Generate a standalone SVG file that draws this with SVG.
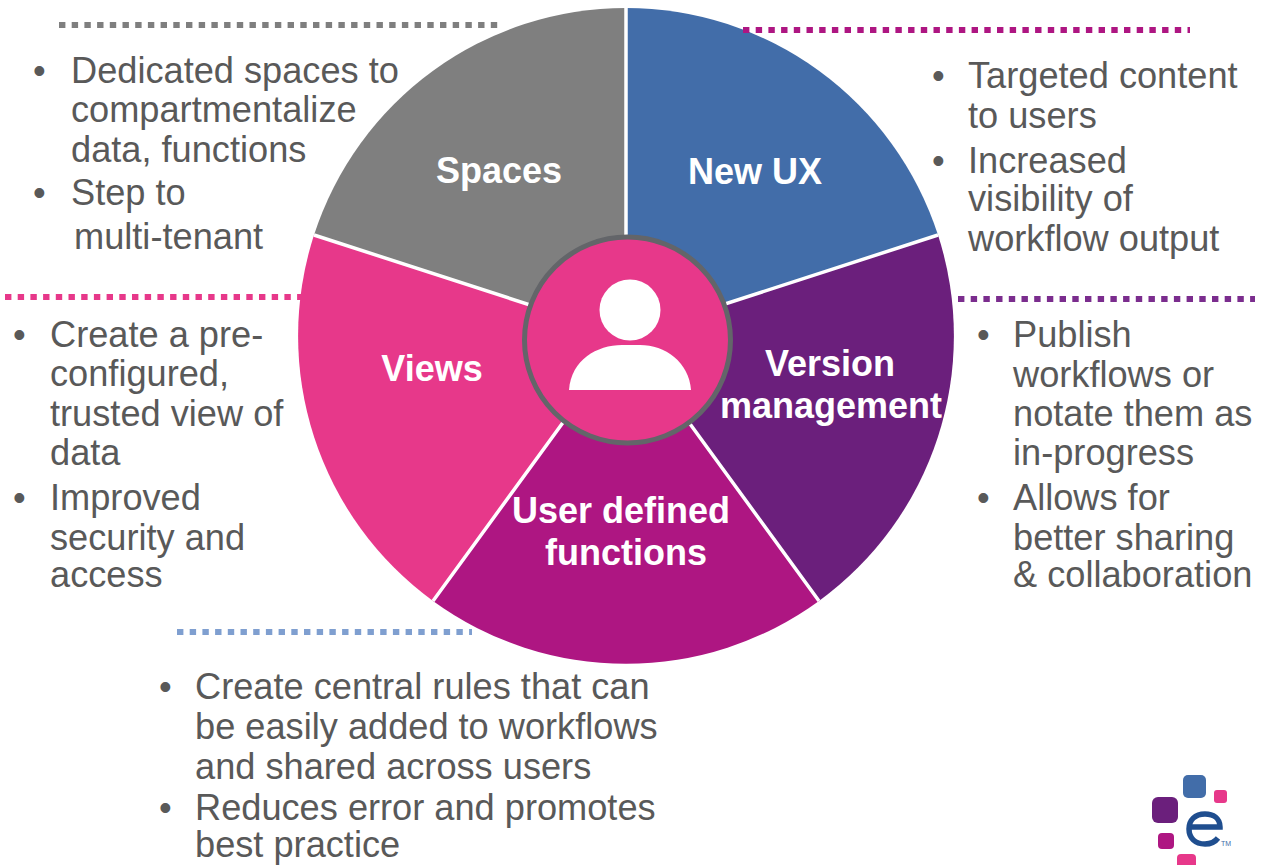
<svg xmlns="http://www.w3.org/2000/svg" width="1270" height="865" viewBox="0 0 1270 865">
<style>
text{font-family:"Liberation Sans",Arial,sans-serif}
.b{font-size:36.2px;fill:#595959}
.l{font-size:36px;font-weight:bold;fill:#fff;text-anchor:middle}
.w{stroke:#fff;stroke-width:3.5;fill:none}
.d{fill:none;stroke-width:6;stroke-dasharray:6.4 6.3}
</style>
<rect width="1270" height="865" fill="#fff"/>
<g id="spaces"><path d="M626 336L314 235A328 328 0 0 1 626 8Z" fill="#7f7f7f"/><text class="l" x="499" y="183">Spaces</text></g>
<g id="new-ux"><path d="M626 336L626 8A328 328 0 0 1 938 235Z" fill="#426da9"/><text class="l" x="755" y="184">New UX</text></g>
<g id="version"><path d="M626 336L938 235A328 328 0 0 1 819 601Z" fill="#6b1f7c"/></g>
<g id="udf"><path d="M626 336L819 601A328 328 0 0 1 433 601Z" fill="#ae1682"/></g>
<g id="views"><path d="M626 336L433 601A328 328 0 0 1 314 235Z" fill="#e7388a"/><text class="l" x="432" y="381">Views</text></g>
<path class="w" d="M626 336V8M626 336L938 235M626 336L819 601M626 336L433 601M626 336L314 235"/>
<g id="version-label"><text class="l" x="830" y="376">Version</text><text class="l" x="831" y="418">management</text></g>
<g id="udf-label"><text class="l" x="621" y="523">User defined</text><text class="l" x="626" y="565">functions</text></g>
<g id="center">
<circle cx="627.500" cy="340" r="103" fill="#e7388a" stroke="#636569" stroke-width="5"/>
<circle cx="630" cy="310" r="30.500" fill="#fff"/>
<path d="M569 390C571 360 597 345 622 345H640C665 345 689 362 691 390Z" fill="#fff"/>
</g>
<g id="connectors">
<path class="d" stroke="#7f7f7f" d="M59 25H498"/>
<path class="d" stroke="#ae1682" d="M743 30H1190"/>
<path class="d" stroke="#e7388a" d="M5 297H302"/>
<path class="d" stroke="#7b2d8e" d="M958 299H1255"/>
<path class="d" stroke="#7f9fd0" d="M177 632H472"/>
</g>
<g id="text-spaces">
<text class="b" x="33" y="83">•</text><text class="b" x="71" y="83">Dedicated spaces to</text>
<text class="b" x="71" y="122">compartmentalize</text>
<text class="b" x="71" y="162">data, functions</text>
<text class="b" x="33" y="205">•</text><text class="b" x="71" y="205">Step to</text>
<text class="b" x="74" y="249">multi-tenant</text>
</g>
<g id="text-ux">
<text class="b" x="932" y="88">•</text><text class="b" x="968" y="88">Targeted content</text>
<text class="b" x="968" y="128">to users</text>
<text class="b" x="932" y="173">•</text><text class="b" x="968" y="173">Increased</text>
<text class="b" x="968" y="211">visibility of</text>
<text class="b" x="968" y="251">workflow output</text>
</g>
<g id="text-views">
<text class="b" x="13" y="347">•</text><text class="b" x="50" y="347">Create a pre-</text>
<text class="b" x="50" y="386">configured,</text>
<text class="b" x="50" y="426">trusted view of</text>
<text class="b" x="50" y="465">data</text>
<text class="b" x="13" y="510">•</text><text class="b" x="50" y="510">Improved</text>
<text class="b" x="50" y="550">security and</text>
<text class="b" x="50" y="587">access</text>
</g>
<g id="text-version">
<text class="b" x="977" y="347">•</text><text class="b" x="1013" y="347">Publish</text>
<text class="b" x="1013" y="387">workflows or</text>
<text class="b" x="1013" y="426">notate them as</text>
<text class="b" x="1013" y="465">in-progress</text>
<text class="b" x="977" y="510">•</text><text class="b" x="1013" y="510">Allows for</text>
<text class="b" x="1013" y="550">better sharing</text>
<text class="b" x="1013" y="587">&amp; collaboration</text>
</g>
<g id="text-udf">
<text class="b" x="159" y="699">•</text><text class="b" x="195" y="699">Create central rules that can</text>
<text class="b" x="195" y="739">be easily added to workflows</text>
<text class="b" x="195" y="779">and shared across users</text>
<text class="b" x="159" y="820">•</text><text class="b" x="195" y="820">Reduces error and promotes</text>
<text class="b" x="195" y="857">best practice</text>
</g>
<g id="logo">
<rect x="1183" y="775" width="23" height="23" rx="5" fill="#426da9"/>
<rect x="1214" y="790" width="13" height="13" rx="3" fill="#e7388a"/>
<rect x="1152" y="797" width="26" height="26" rx="6" fill="#6b1f7c"/>
<rect x="1158" y="833" width="16" height="16" rx="4" fill="#ae1682"/>
<path d="M1177 865V858Q1177 854 1181 854H1192Q1196 854 1196 858V865Z" fill="#e7388a"/>
<path d="M1189 827H1220C1220 818 1213 814 1205 814C1195 814 1189 820 1189 829C1189 838 1195 844 1205 844C1211 844 1215 842 1218 838" fill="none" stroke="#1f4e8f" stroke-width="5.500"/>
<text x="1221" y="846" font-size="7" fill="#426da9">TM</text>
</g>
</svg>
